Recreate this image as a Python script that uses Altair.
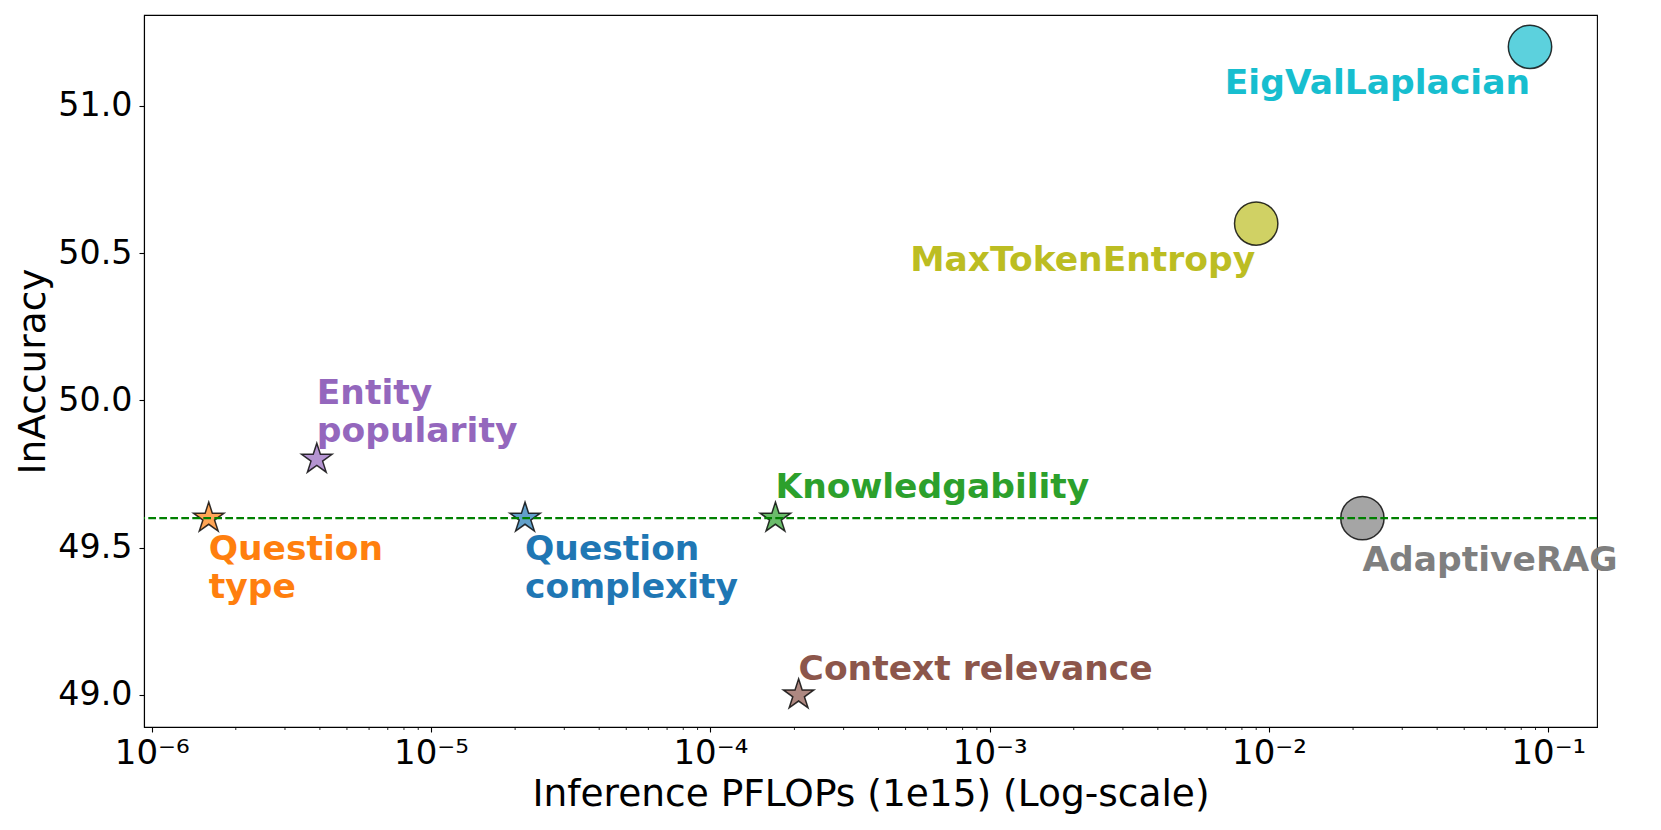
import altair as alt
import pandas as pd

# ---------------- data ----------------
methods = [
    "Question type",
    "Entity popularity",
    "Question complexity",
    "Knowledgability",
    "Context relevance",
    "MaxTokenEntropy",
    "AdaptiveRAG",
    "EigValLaplacian",
]
pflops = [1.6e-6, 3.9e-6, 2.17e-5, 1.71e-4, 2.07e-4, 9.0e-3, 2.16e-2, 8.6e-2]
inaccuracy = [49.6, 49.8, 49.6, 49.6, 49.0, 50.6, 49.6, 51.2]
markers = ["star", "star", "star", "star", "star", "circle", "circle", "circle"]
labels = [
    "Question\ntype",
    "Entity\npopularity",
    "Question\ncomplexity",
    "Knowledgability",
    "Context relevance",
    "MaxTokenEntropy",
    "AdaptiveRAG",
    "EigValLaplacian",
]
colors = ["#ff7f0e", "#9467bd", "#1f77b4", "#2ca02c", "#8c564b", "#bcbd22", "#7f7f7f", "#17becf"]

reference_line = [49.6]

x_major_ticks = [1e-6, 1e-5, 1e-4, 1e-3, 1e-2, 1e-1]
x_tick_labels = ["10⁻⁶", "10⁻⁵", "10⁻⁴", "10⁻³", "10⁻²", "10⁻¹"]
x_minor_ticks = [
    2e-6, 3e-6, 4e-6, 5e-6, 6e-6, 7e-6, 8e-6, 9e-6,
    2e-5, 3e-5, 4e-5, 5e-5, 6e-5, 7e-5, 8e-5, 9e-5,
    2e-4, 3e-4, 4e-4, 5e-4, 6e-4, 7e-4, 8e-4, 9e-4,
    2e-3, 3e-3, 4e-3, 5e-3, 6e-3, 7e-3, 8e-3, 9e-3,
    2e-2, 3e-2, 4e-2, 5e-2, 6e-2, 7e-2, 8e-2, 9e-2,
]
y_ticks = [49.0, 49.5, 50.0, 50.5, 51.0]

# ---------------- styling ----------------
# (align, dx, dy) of each annotation relative to its marker
label_place = {
    "Question type": ("left", 0, 41.5),
    "Entity popularity": ("left", 0, -55.5),
    "Question complexity": ("left", 0, 41.5),
    "Knowledgability": ("left", 0, -20),
    "Context relevance": ("left", 0, -14.5),
    "MaxTokenEntropy": ("right", -1, 47.7),
    "AdaptiveRAG": ("left", 0, 53),
    "EigValLaplacian": ("right", 0, 47.6),
}

STAR = ("M0,-1L0.2245,-0.309L0.951,-0.309L0.363,0.118L0.588,0.809L0,0.382"
        "L-0.588,0.809L-0.363,0.118L-0.951,-0.309L-0.2245,-0.309Z")

W, H = 1453, 712
FONT = "DejaVu Sans"

df = pd.DataFrame({
    "method": methods,
    "pflops": pflops,
    "inaccuracy": inaccuracy,
    "marker": markers,
    "label": labels,
})

xscale = alt.Scale(type="log", domain=[9.384e-7, 0.1494], nice=False)
yscale = alt.Scale(domain=[48.891, 51.308], nice=False, zero=False)

label_js = "[" + ",".join("'" + s + "'" for s in x_tick_labels) + "]"
x_axis = alt.Axis(
    values=x_major_ticks,
    labelExpr=label_js + "[round(log(datum.value)/LN10) + 6]",
    labelFontSize=34,
    labelBaseline="alphabetic",
    labelPadding=31,
    labelFlush=False,
    labelOverlap=False,
    tickSize=5,
    tickWidth=1.1,
    title="Inference PFLOPs (1e15) (Log-scale)",
    titleFontSize=37.5,
    titleFontWeight="normal",
    titleBaseline="alphabetic",
    titleAlign="center",
    titleX=W / 2,
    titleY=78,
    grid=False,
)
y_axis = alt.Axis(
    values=y_ticks,
    format=".1f",
    labelFontSize=33.3,
    labelPadding=7,
    labelFlush=False,
    labelBaseline="middle",
    tickSize=5,
    tickWidth=1.1,
    title="InAccuracy",
    titleFontSize=37.5,
    titleFontWeight="normal",
    titleAngle=270,
    titleBaseline="alphabetic",
    titleAlign="center",
    titleX=-100,
    titleY=H / 2,
    grid=False,
)

X = alt.X("pflops:Q", scale=xscale, axis=x_axis)
Y = alt.Y("inaccuracy:Q", scale=yscale, axis=y_axis)

color_enc = alt.Color("method:N", scale=alt.Scale(domain=methods, range=colors), legend=None)

base = alt.Chart(df)

stars = base.transform_filter(alt.datum.marker == "star").mark_point(
    shape=STAR, size=1030, filled=True, opacity=1, fillOpacity=0.7,
    stroke="black", strokeOpacity=0.8, strokeWidth=1.5,
).encode(x=X, y=Y, color=color_enc)

circles = base.transform_filter(alt.datum.marker == "circle").mark_point(
    shape="circle", size=1880, filled=True, opacity=1, fillOpacity=0.7,
    stroke="black", strokeOpacity=0.8, strokeWidth=1.5,
).encode(x=X, y=Y, color=color_enc)

hline = alt.Chart(pd.DataFrame({"inaccuracy": reference_line})).mark_rule(
    color="#008000", strokeDash=[7.7, 3.3], strokeWidth=2.1,
).encode(y=Y)

minor = alt.Chart(pd.DataFrame({"pflops": x_minor_ticks})).mark_rule(
    color="black", strokeWidth=0.85,
).encode(
    x=X,
    y=alt.value(H),
    y2=alt.value(H + 3),
)

texts = []
for m, c in zip(methods, colors):
    align, dx, dy = label_place[m]
    texts.append(
        base.transform_filter(alt.datum.method == m).mark_text(
            align=align, baseline="alphabetic", dx=dx, dy=dy,
            font=FONT, fontSize=34.5, fontWeight="bold",
            lineBreak="\n", lineHeight=38.5, color=c,
        ).encode(x=X, y=Y, text="label:N")
    )

chart = alt.layer(stars, circles, hline, minor, *texts).properties(
    width=W,
    height=H,
    autosize=alt.AutoSizeParams(type="none"),
    padding={"left": 136, "top": 7, "right": 56, "bottom": 95},
    background="white",
).configure_view(
    stroke="black", strokeWidth=1.1,
).configure_axis(
    domainColor="black", domainWidth=1.1, tickColor="black",
    labelColor="black", titleColor="black",
    labelFont=FONT, titleFont=FONT,
)

chart.save("out.html", embed_options={"renderer": "svg", "actions": False})
